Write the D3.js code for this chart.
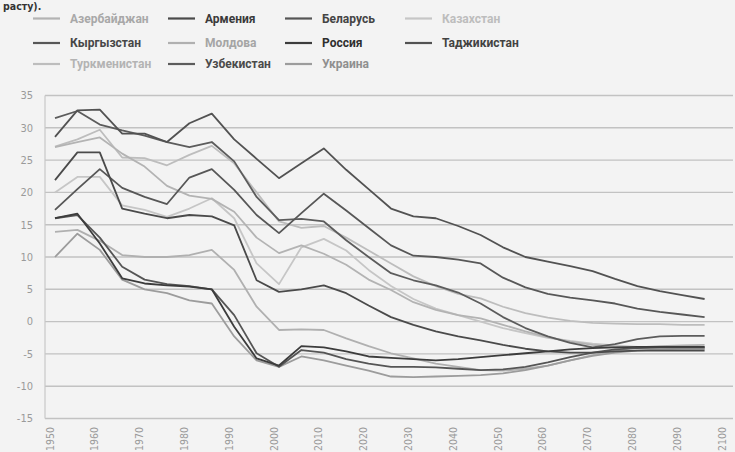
<!DOCTYPE html>
<html><head><meta charset="utf-8">
<script src="https://cdn.jsdelivr.net/npm/d3@7"></script>
<style>
html,body{margin:0;padding:0;background:#f3f3f3;}
svg{display:block;font-family:'DejaVu Sans Condensed','DejaVu Sans',sans-serif;}
.legend text{font-family:Roboto,'Liberation Sans',sans-serif;}
</style></head><body>
<svg id="chart" width="735" height="452"></svg>
<script>
// Natural increase per 1000, five-year steps 1950..2095
const years = d3.range(1950, 2100, 5);
const tickYears = d3.range(1950, 2101, 10);
const yTicks = d3.range(-15, 36, 5);

const names = ["Азербайджан","Армения","Беларусь","Казахстан","Кыргызстан","Молдова","Россия","Таджикистан","Туркменистан","Узбекистан","Украина"];

const azerbaijan  = [27.0,27.8,28.5,26.0,24.0,21.0,19.5,19.0,17.0,13.0,10.6,11.8,10.5,8.8,6.5,4.9,3.0,1.8,1.0,0.5,-0.5,-1.5,-2.4,-3.1,-3.6,-3.9,-4.1,-4.2,-4.2,-4.2];
const armenia     = [21.9,26.2,26.2,17.5,16.7,16.0,16.5,16.3,14.9,6.4,4.6,5.0,5.6,4.4,2.5,0.7,-0.5,-1.5,-2.3,-2.9,-3.6,-4.2,-4.6,-4.8,-4.8,-4.6,-4.5,-4.5,-4.5,-4.5];
const belarus     = [16.0,16.5,13.0,8.5,6.5,5.8,5.5,5.0,1.0,-4.9,-7.0,-4.4,-4.8,-5.8,-6.5,-7.0,-7.0,-7.1,-7.3,-7.5,-7.4,-7.0,-6.3,-5.5,-4.8,-4.3,-4.1,-4.0,-4.0,-4.0];
const kazakhstan  = [20.0,22.4,22.4,18.0,17.3,16.2,17.5,19.1,16.0,9.0,5.8,11.5,12.8,11.0,8.0,5.5,3.5,2.0,1.0,0.0,-1.0,-1.8,-2.5,-3.0,-3.4,-3.7,-3.9,-4.0,-4.0,-4.0];
const kyrgyzstan  = [17.3,20.5,23.6,20.7,19.3,18.2,22.3,23.6,20.4,16.5,13.7,16.8,19.8,17.2,14.5,11.8,10.2,10.0,9.6,9.0,6.8,5.3,4.3,3.7,3.3,2.8,2.0,1.5,1.1,0.7];
const moldova     = [13.9,14.2,12.5,10.3,10.0,10.0,10.3,11.1,8.0,2.3,-1.3,-1.2,-1.3,-2.6,-3.8,-4.9,-5.7,-6.5,-7.0,-7.5,-7.6,-7.3,-6.8,-6.0,-5.2,-4.5,-4.0,-3.8,-3.7,-3.6];
const russia      = [16.0,16.7,12.1,6.7,5.9,5.6,5.4,5.0,-0.8,-5.7,-6.8,-3.8,-4.0,-4.6,-5.4,-5.6,-5.8,-6.0,-5.8,-5.5,-5.2,-4.9,-4.6,-4.3,-4.1,-4.0,-3.9,-3.9,-3.9,-3.9];
const tajikistan  = [28.6,32.7,32.8,29.1,29.1,27.8,30.7,32.2,28.2,25.2,22.2,24.5,26.8,23.5,20.5,17.5,16.3,16.0,14.8,13.4,11.5,10.0,9.3,8.6,7.8,6.6,5.5,4.7,4.1,3.5];
const turkmenistan= [27.1,28.2,29.7,25.4,25.3,24.2,25.8,27.2,24.5,20.0,15.5,14.5,14.8,13.0,11.0,9.0,7.0,5.5,4.3,3.6,2.3,1.3,0.6,0.1,-0.2,-0.3,-0.4,-0.4,-0.5,-0.5];
const uzbekistan  = [31.5,32.6,30.5,29.6,28.8,27.8,27.0,27.8,24.8,19.3,15.7,15.9,15.5,12.6,10.0,7.5,6.4,5.6,4.5,2.8,0.7,-1.0,-2.3,-3.3,-4.0,-3.5,-2.7,-2.3,-2.2,-2.2];
const ukraine     = [10.0,13.6,11.1,6.5,5.0,4.4,3.3,2.8,-2.3,-6.0,-7.0,-5.4,-6.0,-6.8,-7.6,-8.5,-8.6,-8.5,-8.4,-8.3,-8.0,-7.5,-6.8,-6.0,-5.3,-4.8,-4.5,-4.3,-4.2,-4.2];

const valuesByName = [azerbaijan, armenia, belarus, kazakhstan, kyrgyzstan, moldova, russia, tajikistan, turkmenistan, uzbekistan, ukraine];
const colors = ["#b3b3b3","#4a4a4a","#555555","#c6c6c6","#575757","#b0b0b0","#3c3c3c","#525252","#bdbdbd","#5c5c5c","#9c9c9c"];
const textColors = ["#a8a8a8","#3a3a3a","#444444","#bdbdbd","#474747","#a5a5a5","#2e2e2e","#424242","#b3b3b3","#4a4a4a","#8f8f8f"];

const series = names.map((n, i) => ({name: n, values: valuesByName[i], color: colors[i], text: textColors[i], idx: i}));

const svg = d3.select("#chart");
const x = d3.scaleLinear().domain([1950, 2100]).range([55, 727]);
const y = d3.scaleLinear().domain([-15, 35]).range([418.5, 95.5]);

// tail of the sentence above the figure
svg.append("text").attr("x", 3).attr("y", 10).attr("font-size", 10.5).attr("font-weight", "bold")
  .attr("fill", "#333").text("расту).");

// horizontal grid
svg.append("g").selectAll("line").data(yTicks).join("line")
  .attr("x1", 45).attr("x2", 733).attr("y1", d => y(d)).attr("y2", d => y(d))
  .attr("stroke", "#c2c2c2").attr("stroke-width", 1.4);
svg.append("line").attr("x1", 45).attr("x2", 45).attr("y1", y(35)).attr("y2", y(-15))
  .attr("stroke", "#c8c8c8").attr("stroke-width", 1.2);

// y labels
svg.append("g").selectAll("text").data(yTicks).join("text")
  .attr("x", 33).attr("y", d => y(d)).attr("dy", "0.35em").attr("text-anchor", "end")
  .attr("font-size", 11).attr("fill", "#9a9a9a").text(d => d);

// x labels, rotated
svg.append("g").selectAll("text").data(tickYears).join("text")
  .attr("transform", d => `translate(${x(d) - 5},427) rotate(-90)`)
  .attr("dy", "0.35em").attr("text-anchor", "end")
  .attr("font-size", 10.5).attr("fill", "#9a9a9a").text(d => d);

// lines
const line = d3.line().x((d, i) => x(years[i])).y(d => y(d));
const order = series.slice().sort((a, b) => d3.descending(d3.hsl(a.color).l, d3.hsl(b.color).l));
svg.append("g").selectAll("path").data(order).join("path")
  .attr("d", d => line(d.values)).attr("fill", "none")
  .attr("stroke", d => d.color).attr("stroke-width", 1.8).attr("stroke-linejoin", "round");

// legend: 4 columns x 3 rows
const colX = [33, 168, 285, 405];
const rowY = [18.5, 43, 64];
const lg = svg.append("g").attr("class", "legend").selectAll("g").data(series).join("g")
  .attr("transform", d => `translate(${colX[d.idx % 4]},${rowY[Math.floor(d.idx / 4)]})`);
lg.append("line").attr("x1", 0).attr("x2", 27).attr("stroke", d => d.color).attr("stroke-width", 2.2);
lg.append("text").attr("x", 37).attr("dy", "0.36em").attr("font-size", 12).attr("font-weight", "bold")
  .attr("fill", d => d.text).text(d => d.name);
</script>
</body></html>
